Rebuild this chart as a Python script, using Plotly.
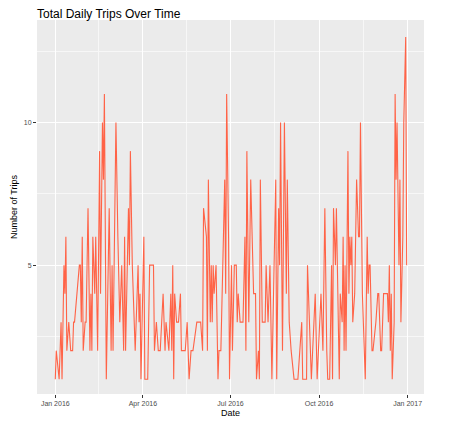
import pandas as pd
import plotly.graph_objects as go

# days since 2016-01-01 that had trips
day_offsets = [0, 1, 4, 6, 7, 9, 10, 11, 12, 14, 16, 18, 19, 20, 25, 26, 27, 28, 29, 31,
               32, 34, 36, 37, 38, 39, 41, 42, 44, 46, 47, 49, 50, 51, 53, 56, 58, 59, 60, 63,
               65, 67, 69, 71, 72, 73, 76, 77, 78, 80, 83, 84, 86, 87, 88, 89, 92, 93, 96, 98,
               102, 103, 105, 107, 109, 112, 114, 115, 118, 120, 121, 122, 123, 124, 126, 128, 130, 131, 134, 135,
               137, 139, 141, 143, 147, 151, 153, 154, 157, 158, 159, 161, 162, 163, 164, 165, 167, 169, 170, 172,
               176, 177, 178, 180, 181, 183, 184, 186, 188, 189, 190, 192, 194, 195, 197, 198, 199, 201, 203, 206,
               208, 209, 211, 212, 213, 215, 218, 219, 221, 223, 225, 229, 230, 232, 233, 234, 236, 238, 240, 241,
               243, 245, 248, 252, 256, 257, 261, 262, 266, 270, 272, 276, 278, 280, 282, 283, 285, 287, 288, 289,
               291, 292, 295, 296, 298, 299, 300, 301, 302, 304, 305, 306, 307, 308, 309, 311, 313, 315, 316, 317,
               319, 322, 324, 325, 326, 327, 329, 330, 333, 335, 336, 338, 339, 341, 343, 345, 346, 347, 348, 349,
               350, 352, 353, 354, 355, 356, 357, 358, 359, 361, 362, 364, 365]
trips = [1, 2, 1, 3, 1, 5, 4, 6, 2, 3, 2, 2, 3, 3, 5, 5, 3, 6, 2, 3,
         3, 7, 2, 4, 2, 6, 4, 6, 2, 9, 4, 10, 8, 11, 1, 7, 2, 5, 2, 10,
         6, 3, 5, 2, 6, 2, 7, 5, 9, 5, 2, 3, 5, 3, 4, 1, 6, 1, 1, 5,
         5, 2, 3, 2, 2, 4, 2, 3, 2, 4, 2, 5, 1, 4, 3, 3, 4, 2, 2, 2,
         3, 1, 2, 2, 3, 3, 2, 7, 6, 2, 8, 3, 5, 3, 5, 4, 5, 1, 2, 2,
         8, 4, 11, 6, 1, 5, 2, 5, 5, 3, 4, 3, 3, 3, 6, 2, 9, 3, 8, 4,
         4, 1, 2, 1, 8, 3, 3, 5, 3, 5, 1, 8, 1, 7, 5, 10, 2, 10, 4, 8,
         3, 2, 1, 1, 3, 1, 1, 5, 1, 4, 1, 4, 2, 7, 2, 1, 1, 5, 1, 7,
         5, 7, 1, 4, 3, 6, 2, 5, 2, 9, 4, 6, 5, 6, 3, 4, 8, 6, 6, 10,
         4, 1, 6, 4, 5, 5, 2, 2, 3, 4, 4, 2, 2, 4, 4, 4, 3, 5, 2, 4,
         1, 3, 11, 8, 10, 8, 5, 8, 3, 6, 10, 13, 5]

dates = pd.Timestamp("2016-01-01") + pd.to_timedelta(day_offsets, unit="D")

fig = go.Figure(go.Scatter(x=dates, y=trips, mode="lines",
                           line=dict(color="#FF6347", width=1.1)))

fig.update_layout(
    width=458, height=436,
    margin=dict(l=29, r=42, t=12, b=50, autoexpand=False),
    paper_bgcolor="white", plot_bgcolor="#EBEBEB",
    showlegend=False,
    title=dict(text="Total Daily Trips Over Time", x=29 / 458, xref="container", xanchor="left",
               y=0.987, yanchor="middle",
               font=dict(family="Liberation Sans, Arial", size=12, color="black")),
    font=dict(family="Liberation Sans, Arial"),
)
fig.update_xaxes(
    range=[pd.Timestamp("2015-12-13"), pd.Timestamp("2017-01-18")], automargin=False,
    tickvals=pd.to_datetime(["2016-01-01", "2016-04-01", "2016-07-01", "2016-10-01", "2017-01-01"]),
    ticktext=["Jan 2016", "Apr 2016", "Jul 2016", "Oct 2016", "Jan 2017"],
    ticks="outside", ticklen=3, tickcolor="#333", tickfont=dict(size=7, color="#4D4D4D"),
    showgrid=True, gridcolor="white", gridwidth=1.1,
    minor=dict(showgrid=True, gridcolor="#F7F7F7", gridwidth=0.5,
               tickvals=pd.to_datetime(["2016-02-15", "2016-05-16", "2016-08-16", "2016-11-16"])),
    zeroline=False,
    title=dict(text="Date", font=dict(size=9, color="black"), standoff=2),
)
fig.update_yaxes(
    range=[0.48, 13.6], tickvals=[5, 10], automargin=False,
    ticks="outside", ticklen=3, tickcolor="#333", tickfont=dict(size=7, color="#4D4D4D"),
    showgrid=True, gridcolor="white", gridwidth=1.1,
    minor=dict(showgrid=True, gridcolor="#F7F7F7", gridwidth=0.5, tickvals=[2.5, 7.5, 12.5]),
    zeroline=False,
    title=dict(text="Number of Trips", font=dict(size=9, color="black"), standoff=4),
)

fig.write_html("out.html")
